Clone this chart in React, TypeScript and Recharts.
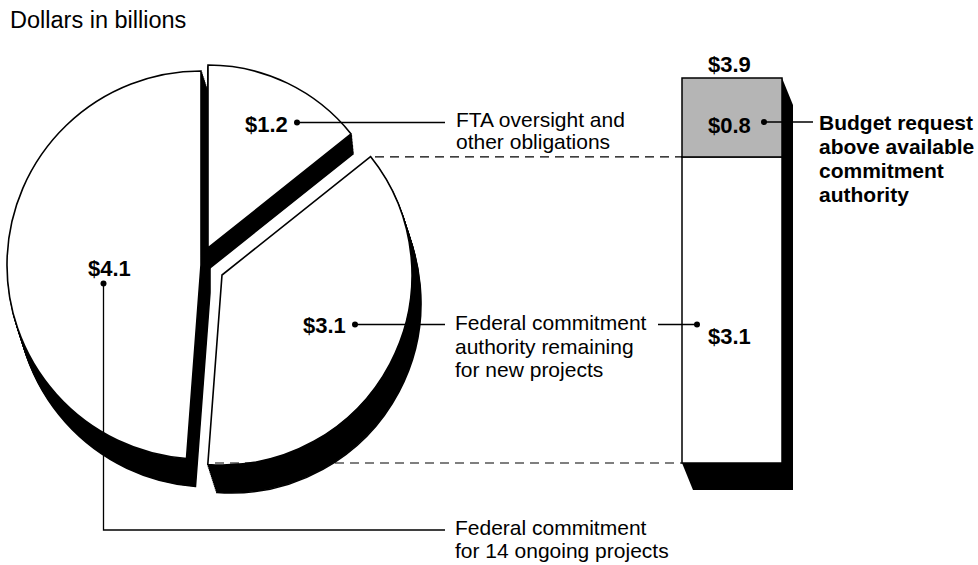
import React from 'react';
import { PieChart, Pie, Cell, BarChart, Bar, XAxis, YAxis, ReferenceLine, LabelList } from 'recharts';

// pie: three uses of the FY funds
const sliceValues = [4.1, 3.1, 1.2];
const sliceLabels = [
  ['Federal commitment', 'for 14 ongoing projects'],
  ['Federal commitment', 'authority remaining', 'for new projects'],
  ['FTA oversight and', 'other obligations'],
];

// bar: new-project authority vs. the budget request
const barCategories = ['Budget request'];
const availableValues = [3.1];
const requestValues = [0.8];
const requestTotals = [3.9];
const requestLabel = ['Budget request', 'above available', 'commitment', 'authority'];

const W = 978;
const H = 565;
const FONT = '"Liberation Sans", Arial, Helvetica, sans-serif';
const GRAY = '#b5b5b5';

const pieData = sliceValues.map((value, i) => ({ name: sliceLabels[i].join(' '), value }));
const barData = barCategories.map((name, i) => ({
  name,
  available: availableValues[i],
  request: requestValues[i],
  total: requestTotals[i],
}));

// each slice is pulled out a bit and has its own black "side"
const sliceLayout = [
  { cx: 201, cy: 265, r: 194, dx: 9, dy: 28 },
  { cx: 222, cy: 275, r: 190, dx: 9, dy: 28 },
  { cx: 208, cy: 248, r: 183, dx: 2, dy: 20 },
];
const DEPTH_STEPS = 14;
const BAR_DX = 11;
const BAR_DY = 27;

const money = (v: number) => `$${v.toFixed(1)}`;

function slicePie(i: number, key: string, cx: number, cy: number, r: number, face: boolean) {
  return (
    <Pie
      key={key}
      data={pieData}
      dataKey="value"
      cx={cx}
      cy={cy}
      outerRadius={r}
      startAngle={90}
      endAngle={450}
      label={false}
      labelLine={false}
      isAnimationActive={false}
    >
      {pieData.map((_, j) => (
        <Cell
          key={j}
          fill={j === i ? (face ? '#fff' : '#000') : 'none'}
          stroke={j === i ? '#000' : 'none'}
          strokeWidth={face ? 1.6 : 1.5}
        />
      ))}
    </Pie>
  );
}

function DepthBar(props: any) {
  const { x, y, width, height, fill, base } = props;
  const r = x + width;
  const b = y + height;
  return (
    <g>
      {/* right side; runs on down under the next segment so no seam shows */}
      <polygon points={`${r},${y} ${r + BAR_DX},${y + BAR_DY} ${r + BAR_DX},${b + BAR_DY} ${r},${b + BAR_DY}`} fill="#000" />
      {base && (
        <polygon points={`${x},${b} ${x + BAR_DX},${b + BAR_DY} ${r + BAR_DX},${b + BAR_DY} ${r},${b}`} fill="#000" />
      )}
      <rect x={x} y={y} width={width} height={height} fill={fill} stroke="#000" strokeWidth={1.5} />
    </g>
  );
}

const valueStyle = { fontFamily: FONT, fontSize: 22, fontWeight: 700, fill: '#000' };
const textStyle = { fontFamily: FONT, fontSize: 21, fill: '#000' };

const AvailableLabel = (props: any) => {
  const { x, y, height, value } = props;
  return (
    <text x={x + 26} y={y + height * 0.61} style={valueStyle}>
      {money(value)}
    </text>
  );
};

const RequestLabel = (props: any) => {
  const { x, y, height, value } = props;
  return (
    <g>
      <text x={x + 26} y={y - 6} style={valueStyle}>
        {money(requestTotals[0])}
      </text>
      <text x={x + 26} y={y + height * 0.7} style={valueStyle}>
        {money(value)}
      </text>
    </g>
  );
};

const dashTo = (fromX: number) => (p: any) => (
  <line x1={fromX} y1={p.y1} x2={p.x1} y2={p.y1} stroke="#000" strokeWidth={1.2} strokeDasharray="9 6" />
);

function Lines({ x, y, lines, gap, style }: { x: number; y: number; lines: string[]; gap: number; style: any }) {
  return (
    <>
      {lines.map((l, i) => (
        <text key={i} x={x} y={y + i * gap} style={style}>
          {l}
        </text>
      ))}
    </>
  );
}

const Dot = ({ x, y }: { x: number; y: number }) => <circle cx={x} cy={y} r={3} fill="#000" />;

export default function App() {
  const abs: React.CSSProperties = { position: 'absolute', left: 0, top: 0 };
  return (
    <div style={{ position: 'absolute', left: 0, top: 0, width: W, height: H, background: '#fff' }}>
      <div style={abs}>
        <PieChart width={W} height={H} margin={{ top: 0, right: 0, bottom: 0, left: 0 }}>
          {sliceLayout.flatMap((l, i) =>
            Array.from({ length: DEPTH_STEPS }, (_, s) => {
              const t = (s + 1) / DEPTH_STEPS;
              return slicePie(i, `side-${i}-${s}`, l.cx + l.dx * t, l.cy + l.dy * t, l.r, false);
            })
          )}
          {sliceLayout.map((l, i) => slicePie(i, `face-${i}`, l.cx, l.cy, l.r, true))}
        </PieChart>
      </div>

      <div style={abs}>
        <BarChart
          width={W}
          height={H}
          data={barData}
          margin={{ top: 78, right: 196, bottom: 102, left: 682 }}
          barCategoryGap={0}
          barGap={0}
        >
          <XAxis dataKey="name" hide />
          <YAxis hide domain={[0, requestTotals[0]]} />
          <ReferenceLine y={availableValues[0]} shape={dashTo(375)} />
          <ReferenceLine y={0} shape={dashTo(215)} />
          <Bar
            dataKey="available"
            stackId="a"
            fill="#fff"
            isAnimationActive={false}
            shape={(p: any) => <DepthBar {...p} base />}
          >
            <LabelList dataKey="available" content={AvailableLabel} />
          </Bar>
          <Bar
            dataKey="request"
            stackId="a"
            fill={GRAY}
            isAnimationActive={false}
            shape={(p: any) => <DepthBar {...p} />}
          >
            <LabelList dataKey="request" content={RequestLabel} />
          </Bar>
        </BarChart>
      </div>

      <svg width={W} height={H} style={{ ...abs, pointerEvents: 'none' }}>
        <text x={10} y={28} style={{ fontFamily: FONT, fontSize: 23.5, fill: '#000' }}>
          Dollars in billions
        </text>

        {/* $4.1 – ongoing projects */}
        <text x={88} y={276} style={valueStyle}>{money(sliceValues[0])}</text>
        <polyline points="103.5,283.5 103.5,530 445,530" fill="none" stroke="#000" strokeWidth={1.3} />
        <Dot x={103.5} y={283.5} />
        <Lines x={455} y={535} lines={sliceLabels[0]} gap={23} style={textStyle} />

        {/* $1.2 – FTA oversight */}
        <text x={245} y={132} style={valueStyle}>{money(sliceValues[2])}</text>
        <line x1={297} y1={122.5} x2={445} y2={122.5} stroke="#000" strokeWidth={1.3} />
        <Dot x={297} y={122.5} />
        <Lines x={456} y={127} lines={sliceLabels[2]} gap={21.5} style={textStyle} />

        {/* $3.1 – remaining authority */}
        <text x={303} y={333} style={valueStyle}>{money(sliceValues[1])}</text>
        <line x1={355} y1={324.5} x2={445} y2={324.5} stroke="#000" strokeWidth={1.3} />
        <Dot x={355} y={324.5} />
        <Lines x={455} y={330} lines={sliceLabels[1]} gap={23.5} style={textStyle} />
        <line x1={658} y1={324.5} x2={697} y2={324.5} stroke="#000" strokeWidth={1.3} />
        <Dot x={697} y={324.5} />

        {/* $0.8 – budget request above authority */}
        <line x1={764} y1={122} x2={813} y2={122} stroke="#000" strokeWidth={1.3} />
        <Dot x={764} y={122} />
        <Lines
          x={819}
          y={130}
          lines={requestLabel}
          gap={24}
          style={{ fontFamily: FONT, fontSize: 21, fontWeight: 700, fill: '#000' }}
        />
      </svg>
    </div>
  );
}
